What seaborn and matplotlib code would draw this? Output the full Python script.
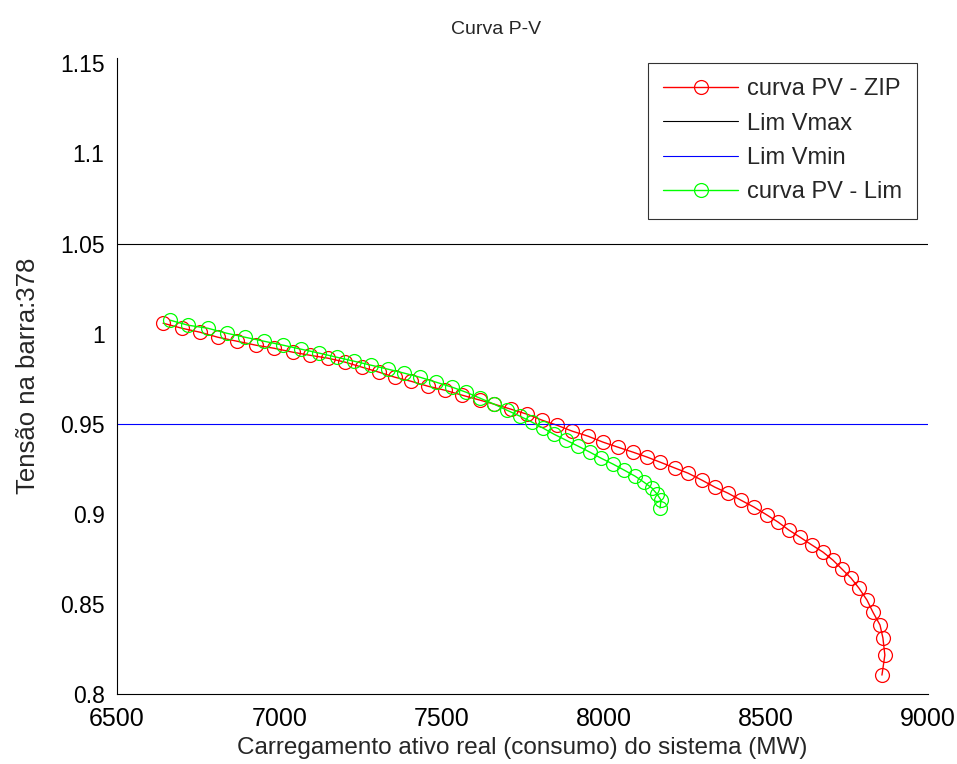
import numpy as np
import matplotlib
matplotlib.use("Agg")
import matplotlib.pyplot as plt
import seaborn as sns

# curva PV - ZIP (MW, pu)
p_zip = [6642, 6700, 6756, 6811, 6870, 6928, 6984, 7042, 7095, 7150,
         7203, 7255, 7308, 7357, 7406, 7459, 7511, 7563, 7619, 7662,
         7714, 7764, 7810, 7856, 7903, 7952, 7998, 8044, 8091, 8134,
         8174, 8220, 8260, 8303, 8343, 8383, 8423, 8464, 8504, 8538,
         8571, 8605, 8642, 8676, 8707, 8735, 8763, 8787, 8812, 8830,
         8852, 8861, 8867, 8858]
v_zip = [1.0058, 1.0030, 1.0008, 0.9980, 0.9958, 0.9936, 0.9919, 0.9897, 0.9880, 0.9864,
         0.9842, 0.9814, 0.9786, 0.9758, 0.9736, 0.9708, 0.9686, 0.9659, 0.9631, 0.9609,
         0.9581, 0.9553, 0.9520, 0.9492, 0.9459, 0.9431, 0.9398, 0.9370, 0.9342, 0.9315,
         0.9287, 0.9254, 0.9226, 0.9187, 0.9148, 0.9115, 0.9076, 0.9037, 0.8993, 0.8954,
         0.8910, 0.8871, 0.8827, 0.8788, 0.8743, 0.8693, 0.8643, 0.8588, 0.8521, 0.8455,
         0.8383, 0.8311, 0.8216, 0.8105]

# curva PV - Lim
p_lim = [6663, 6719, 6780, 6839, 6895, 6953, 7012, 7067, 7123, 7178,
         7231, 7283, 7335, 7385, 7434, 7483, 7533, 7576, 7619, 7662,
         7702, 7742, 7779, 7813, 7847, 7884, 7921, 7958, 7992, 8029,
         8063, 8097, 8124, 8149, 8165, 8177, 8174]
v_lim = [1.0075, 1.0047, 1.0030, 1.0002, 0.9980, 0.9958, 0.9936, 0.9914, 0.9892, 0.9869,
         0.9847, 0.9825, 0.9803, 0.9781, 0.9758, 0.9731, 0.9703, 0.9675, 0.9642, 0.9609,
         0.9575, 0.9542, 0.9509, 0.9476, 0.9442, 0.9409, 0.9376, 0.9342, 0.9309, 0.9276,
         0.9243, 0.9209, 0.9176, 0.9143, 0.9109, 0.9076, 0.9032]

v_max = 1.05
v_min = 0.95
x_range = [6500, 9000]
x_ticks = [6500, 7000, 7500, 8000, 8500, 9000]
y_ticks = [0.8, 0.85, 0.9, 0.95, 1.0, 1.05, 1.1, 1.15]
y_tick_labels = ["0.8", "0.85", "0.9", "0.95", "1", "1.05", "1.1", "1.15"]

sns.set_style("white")
plt.rcParams['font.family'] = ['Liberation Sans', 'DejaVu Sans']

fig = plt.figure(figsize=(9.57, 7.64), dpi=100)
ax = fig.add_axes([0.1223, 0.0916, 0.8474, 0.8325])

marker_kw = dict(marker='o', markersize=10, markerfacecolor='none', markeredgewidth=0.9)

sns.lineplot(x=p_zip, y=v_zip, sort=False, color='red', linewidth=1.0,
             markeredgecolor='red', label='curva PV - ZIP', ax=ax, **marker_kw)
sns.lineplot(x=x_range, y=[v_max, v_max], color='black', linewidth=0.8,
             label='Lim Vmax', ax=ax)
sns.lineplot(x=x_range, y=[v_min, v_min], color='blue', linewidth=0.8,
             label='Lim Vmin', ax=ax)
sns.lineplot(x=p_lim, y=v_lim, sort=False, color='#00ff00', linewidth=1.0,
             markeredgecolor='#00ff00', label='curva PV - Lim', ax=ax, **marker_kw)

ax.set_xlim(6500, 9000)
ax.set_ylim(0.8, 1.153)
ax.set_xticks(x_ticks)
ax.set_yticks(y_ticks)
ax.set_yticklabels(y_tick_labels)
ax.tick_params(direction='in', length=4, width=0.8, colors='black')
ax.tick_params(axis='y', labelsize=16.5, pad=9)
ax.tick_params(axis='x', labelsize=18, pad=9)

for side in ['top', 'right']:
    ax.spines[side].set_visible(False)
for side in ['left', 'bottom']:
    ax.spines[side].set_color('black')
    ax.spines[side].set_linewidth(0.8)

fig.text(496 / 957, 1 - 30 / 764, 'Curva P-V', fontsize=14, ha='center', va='center')
ax.set_xlabel('Carregamento ativo real (consumo) do sistema (MW)', fontsize=17.5,
              labelpad=5)
ax.set_ylabel('Tensão na barra:378', fontsize=18.5, labelpad=14)

leg = ax.legend(loc='upper right', fontsize=17, frameon=True, fancybox=False,
                edgecolor='black', handlelength=3.2, handletextpad=0.35,
                borderpad=0.65, labelspacing=0.52, borderaxespad=0,
                bbox_to_anchor=(0.9865, 0.992))
leg.get_frame().set_linewidth(0.8)

fig.savefig('out.png', dpi=100)
